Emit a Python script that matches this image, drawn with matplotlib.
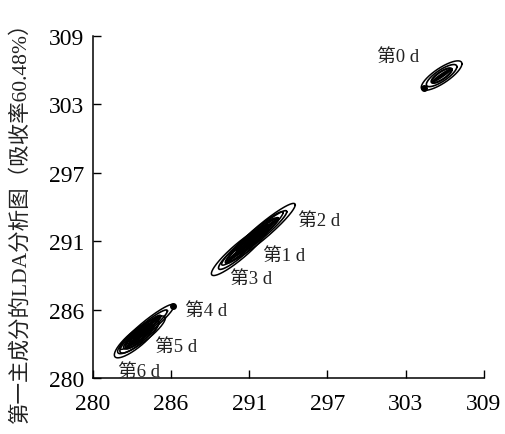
import numpy as np
import matplotlib
matplotlib.use("Agg")
import matplotlib.pyplot as plt

plt.rcParams['font.family'] = ['Liberation Serif', 'Noto Sans CJK SC', 'DejaVu Sans']

# ---- data ----
groups = ['第0 d', '第1 d', '第2 d', '第3 d', '第4 d', '第5 d', '第6 d']
center_x = [305.87, 291.83, 292.50, 290.90, 284.01, 283.60, 283.23]
center_y = [305.64, 291.83, 292.34, 290.77, 284.33, 283.65, 283.31]
sd_x = [1.51, 2.28, 2.51, 2.11, 2.02, 1.77, 1.64]
sd_y = [1.25, 2.27, 2.46, 2.09, 1.91, 1.60, 1.61]
corr = [0.80, 0.964, 0.949, 0.919, 0.941, 0.884, 0.843]

outlier_x = [304.55, 285.93]
outlier_y = [304.60, 286.11]

tick_labels = ['280', '286', '291', '297', '303', '309']
label_x = [301.07, 292.61, 295.21, 290.16, 286.82, 284.60, 281.85]
label_y = [307.23, 290.35, 293.32, 288.40, 285.68, 282.63, 280.51]

ylabel = '第一主成分的LDA分析图（吸收率60.48%）'

# ---- figure ----
fig = plt.figure(figsize=(5.05, 4.35), dpi=100)
ax = fig.add_axes([0.184, 0.129, 0.774, 0.786])
ax.set_xlim(280, 309)
ax.set_ylim(280, 309)

t = np.linspace(0, 2 * np.pi, 200)
for i in range(len(groups)):
    cov = np.array([[sd_x[i] ** 2, corr[i] * sd_x[i] * sd_y[i]],
                    [corr[i] * sd_x[i] * sd_y[i], sd_y[i] ** 2]])
    L = np.linalg.cholesky(cov)
    circ = np.vstack([np.cos(t), np.sin(t)])
    for k, lw in [(1.0, 1.1), (0.75, 1.2), (0.5, 1.6)]:
        pts = L @ (circ * k)
        ax.plot(center_x[i] + pts[0], center_y[i] + pts[1], color='black', lw=lw)
    # dense core of points along the main axis
    w, v = np.linalg.eigh(cov)
    major = v[:, 1] * np.sqrt(w[1])
    minor = v[:, 0] * np.sqrt(w[0])
    core = np.outer(major, np.cos(t)) * 0.45 + np.outer(minor, np.sin(t)) * 0.18
    ax.fill(center_x[i] + core[0], center_y[i] + core[1], color='black', lw=1.2)

ax.scatter(outlier_x, outlier_y, s=16, color='black', zorder=3)

for g, lx, ly in zip(groups, label_x, label_y):
    ax.text(lx, ly, g, fontsize=13.5, ha='left', va='center', color='#222222')

ticks = np.linspace(280, 309, len(tick_labels))
ax.set_xticks(ticks)
ax.set_xticklabels(tick_labels)
ax.set_yticks(ticks)
ax.set_yticklabels(tick_labels)
ax.tick_params(direction='in', length=6, width=1, labelsize=17, colors='black')
ax.tick_params(axis='x', pad=11)
ax.tick_params(axis='y', pad=6)

for s in ['top', 'right']:
    ax.spines[s].set_visible(False)
for s in ['left', 'bottom']:
    ax.spines[s].set_linewidth(1.1)

fig.text(0.04, 0.5, ylabel, rotation=90, ha='center', va='center', fontsize=15.5, color='#222222')

fig.savefig('out.png', dpi=100, facecolor='white')
